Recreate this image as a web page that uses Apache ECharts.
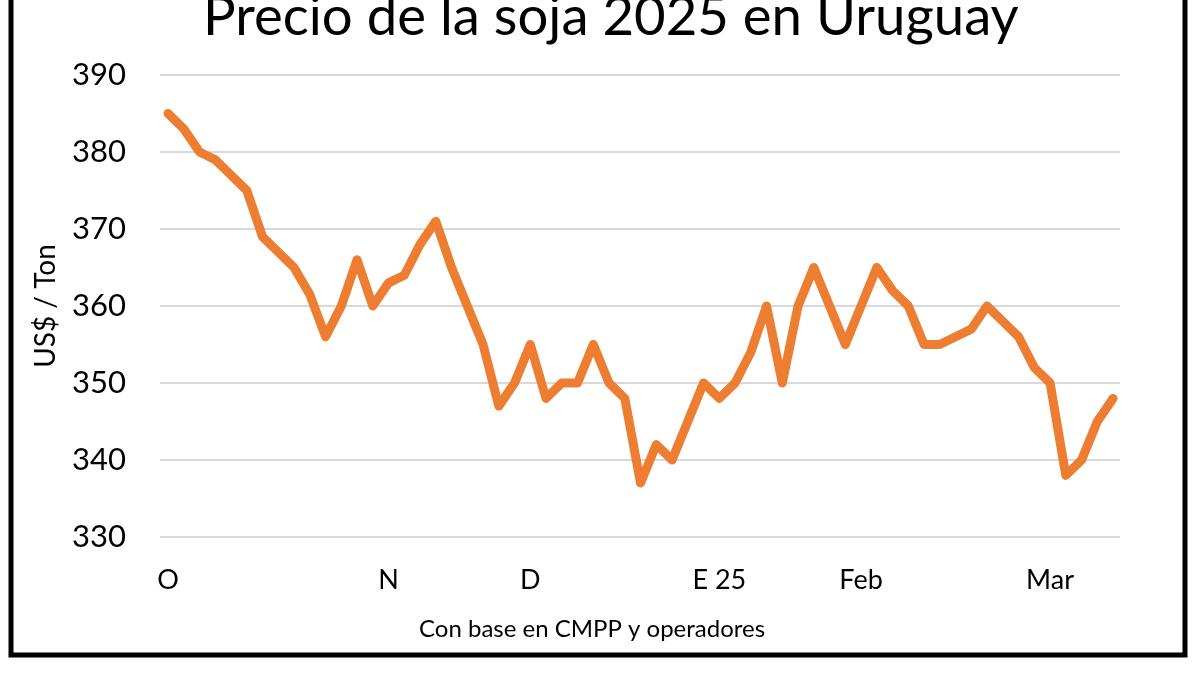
<!DOCTYPE html>
<html>
<head>
<meta charset="utf-8">
<script src="https://cdn.jsdelivr.net/npm/echarts@6/dist/echarts.min.js"></script>
<style>
html,body{margin:0;padding:0;background:#fff;}
#chart{width:1200px;height:675px;}
</style>
</head>
<body>
<div id="chart"></div>
<script>
// Daily-ish observations, index 0..60 (Oct 2024 - Mar 2025)
const prices = [385,383,380,379,377,375,369,367,365,361.5,356,360,366,360,363,364,368,371,365,360,
                355,347,350,355,348,350,350,355,350,348,337,342,340,345,350,348,350,354,360,350,
                360,365,360,355,360,365,362,360,355,355,356,357,360,358,356,352,350,338,340,345,348];
// Month tick labels and the observation index at which each appears
const tickLabels = ['O','N','D','E 25','Feb','Mar'];
const tickIndex  = [0, 14, 23, 35, 44, 56];
const yTicks = [330,340,350,360,370,380,390];

const title = 'Precio de la soja 2025 en Uruguay';
const yName = 'US$ / Ton';
const footer = 'Con base en CMPP y operadores';

const FONT = 'Lato, "Open Sans", sans-serif';
const chart = echarts.init(document.getElementById('chart'), null, {renderer:'canvas'});
const seriesData = prices.map((v,i)=>[i,v]);
const labelMap = {};
tickIndex.forEach((ix,k)=>{ labelMap[ix]=tickLabels[k]; });

chart.setOption({
  backgroundColor:'#ffffff',
  animation:false,
  title:{
    text:title, left:198, top:-15,
    textStyle:{fontFamily:FONT, fontSize:54.5, fontWeight:'normal', color:'#000'}
  },
  graphic:[
    {type:'rect', shape:{x:11,y:-20,width:1174,height:675}, style:{fill:'none', stroke:'#000', lineWidth:5}, z:100},
    {type:'text', left:419, top:617, style:{text:footer, fontFamily:FONT, fontSize:24, fill:'#000'}}
  ],
  grid:{left:160, right:80, top:75, bottom:138},
  xAxis:{
    type:'value', min:-0.51, max:60.44,
    axisLine:{show:false}, axisTick:{show:false}, splitLine:{show:false},
    axisLabel:{
      customValues:tickIndex, margin:30,
      fontFamily:FONT, fontSize:27, color:'#000',
      formatter:(v)=> labelMap[Math.round(v)] || ''
    }
  },
  yAxis:{
    type:'value', min:yTicks[0], max:yTicks[yTicks.length-1], interval:10,
    name:yName, nameLocation:'middle', nameGap:100,
    nameTextStyle:{fontFamily:FONT, fontSize:28, color:'#000'},
    axisLine:{show:false}, axisTick:{show:false},
    axisLabel:{fontFamily:FONT, fontSize:31, color:'#000', margin:34},
    splitLine:{lineStyle:{color:'#d9d9d9', width:2}}
  },
  series:[{
    type:'line', data:seriesData, symbol:'none', smooth:false,
    lineStyle:{color:'#ED7D31', width:9, join:'round', cap:'round'}
  }]
});
</script>
</body>
</html>
